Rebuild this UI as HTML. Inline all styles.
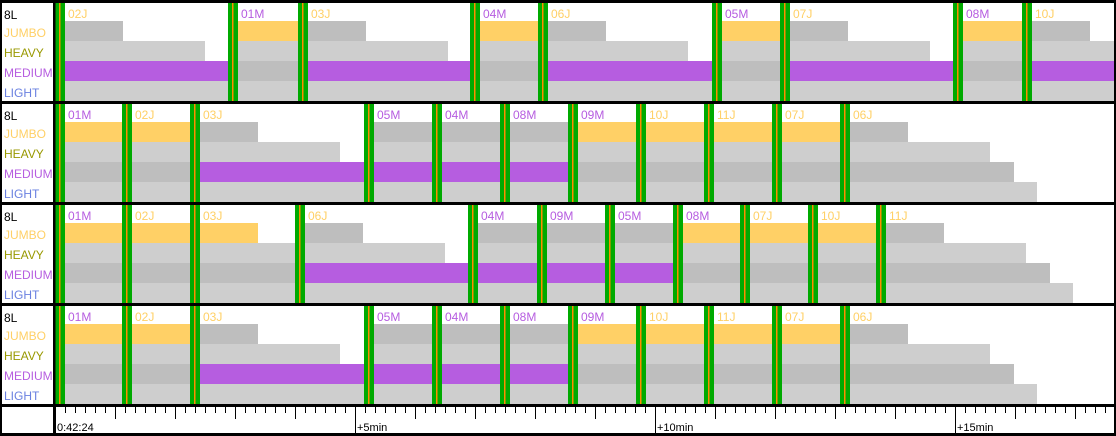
<!DOCTYPE html>
<html><head><meta charset="utf-8">
<style>
html,body{margin:0;padding:0;background:#fff;}
svg{display:block;font-family:"Liberation Sans","DejaVu Sans",sans-serif;}
</style></head>
<body>
<svg id="chart" width="1116" height="436" viewBox="0 0 1116 436" xmlns="http://www.w3.org/2000/svg"></svg>
<script>
// ---- data ----
const rowNames = ["JUMBO","HEAVY","MEDIUM","LIGHT"];
const catIndex = {J:0,H:1,M:2,L:3};
// separation (seconds) by leader category -> follower row
const sepJ = [58,140,164,187];
const sepM = [110,110,110,110];
const p1Labels = ["02J","01M","03J","04M","06J","05M","07J","08M","10J","11M"];
const p1Times  = [0,173,243,415,483,657,725,898,967,1145];
const p2Labels = ["01M","02J","03J","05M","04M","08M","09M","10J","11J","07J","06J"];
const p2Times  = [0,67,135,309,377,445,513,581,649,717,785];
const p3Labels = ["01M","02J","03J","06J","04M","09M","05M","08M","07J","10J","11J"];
const p3Times  = [0,67,135,240,413,482,550,618,685,753,821];
const p4Labels = ["01M","02J","03J","05M","04M","08M","09M","10J","11J","07J","06J"];
const p4Times  = [0,67,135,309,377,445,513,581,649,717,785];
const axisLabels = ["0:42:24","+5min","+10min","+15min"];

// ---- layout ----
const svg = document.getElementById('chart');
const NS = "http://www.w3.org/2000/svg";
const X0 = 55, PXS = 1, W = 1116;
function xs(t){ return X0 + t*PXS; }
const panelTops = [2,103,204,305];
const rowColor = ["#bebebe","#cecece","#bebebe","#cecece"];
const catColor = {J:"#ffd066",H:"#999900",M:"#b65de0",L:"#6a80e0"};
const labelColors = ["#ffd066","#999900","#b65de0","#6a80e0"];
const GREEN="#00aa00", ORANGE="#ff8c00";

function el(tag, attrs, parent){
  const e = document.createElementNS(NS, tag);
  for (const k in attrs) e.setAttribute(k, attrs[k]);
  (parent||svg).appendChild(e);
  return e;
}

const panels = [[p1Labels,p1Times],[p2Labels,p2Times],[p3Labels,p3Times],[p4Labels,p4Times]];

panels.forEach((p, pi) => {
  const labels = p[0], times = p[1];
  const top = panelTops[pi];
  const g = el('g', {});
  
  
  const rowY = r => top + 19 + r*20;
  const t8 = el('text', {x:4, y:top+17, 'font-size':12, fill:'#000'}, g);
  t8.textContent = "8L";
  
  
  rowNames.forEach((n, r) => {
    const t = el('text', {x:4, y:rowY(r)+16, 'font-size':12, fill:labelColors[r]}, g);
    t.textContent = n;
    
    
  });
  for (let i=0; i<labels.length; i++){
    const cat = labels[i].slice(-1);
    const start = xs(times[i]) + 10;
    if (start >= W) continue;
    const nextX = (i+1 < labels.length) ? xs(times[i+1]) : Infinity;
    const nextCat = (i+1 < labels.length) ? labels[i+1].slice(-1) : null;
    const seps = cat === 'J' ? sepJ : sepM;
    for (let r=0; r<4; r++){
      let end = Math.min(start + seps[r]*PXS, nextX);
      let fill = (nextCat !== null && catIndex[nextCat] === r) ? catColor[nextCat] : rowColor[r];
      end = Math.min(end, W-2);
      if (end > start){
        const b = el('rect', {x:start, y:rowY(r), width:end-start, height:20, fill:fill}, g);
        
        
      }
    }
  }
  for (let i=0; i<labels.length; i++){
    const x = xs(times[i]);
    if (x >= W) continue;
    const cat = labels[i].slice(-1);
    const m = el('rect', {x:x, y:top, width:10, height:99, fill:GREEN}, g);
    
    
    el('rect', {x:x+4, y:top, width:1.5, height:99, fill:ORANGE}, g);
    const t = el('text', {x:x+13, y:top+16, 'font-size':12, fill:catColor[cat]}, g);
    t.textContent = labels[i];
    
    
  }
});

const frame = el('g', {});


[0,101,202,303,404].forEach(y => el('rect', {x:0, y:y, width:W, height:3, fill:'#000'}, frame));
el('rect', {x:0, y:433, width:W, height:3, fill:'#000'}, frame);
el('rect', {x:0, y:0, width:2, height:436, fill:'#000'}, frame);
el('rect', {x:W-2, y:0, width:2, height:436, fill:'#000'}, frame);
el('rect', {x:53, y:0, width:2.5, height:436, fill:'#000'}, frame);

const ax = el('g', {});


for (let s=0; xs(s) < W-2; s+=10){
  const x = xs(s) + 0.5;
  let h = 7;
  if (s % 60 === 0) h = 13;
  if (s % 300 === 0) h = 28;
  el('line', {x1:x, y1:406, x2:x, y2:406+h, stroke:'#000', 'stroke-width':1}, ax);
}
axisLabels.forEach((lab, k) => {
  const t = el('text', {x:xs(k*300)+2, y:431, 'font-size':11, fill:'#000'}, ax);
  t.textContent = lab;
  
  
});
</script>
</body></html>
